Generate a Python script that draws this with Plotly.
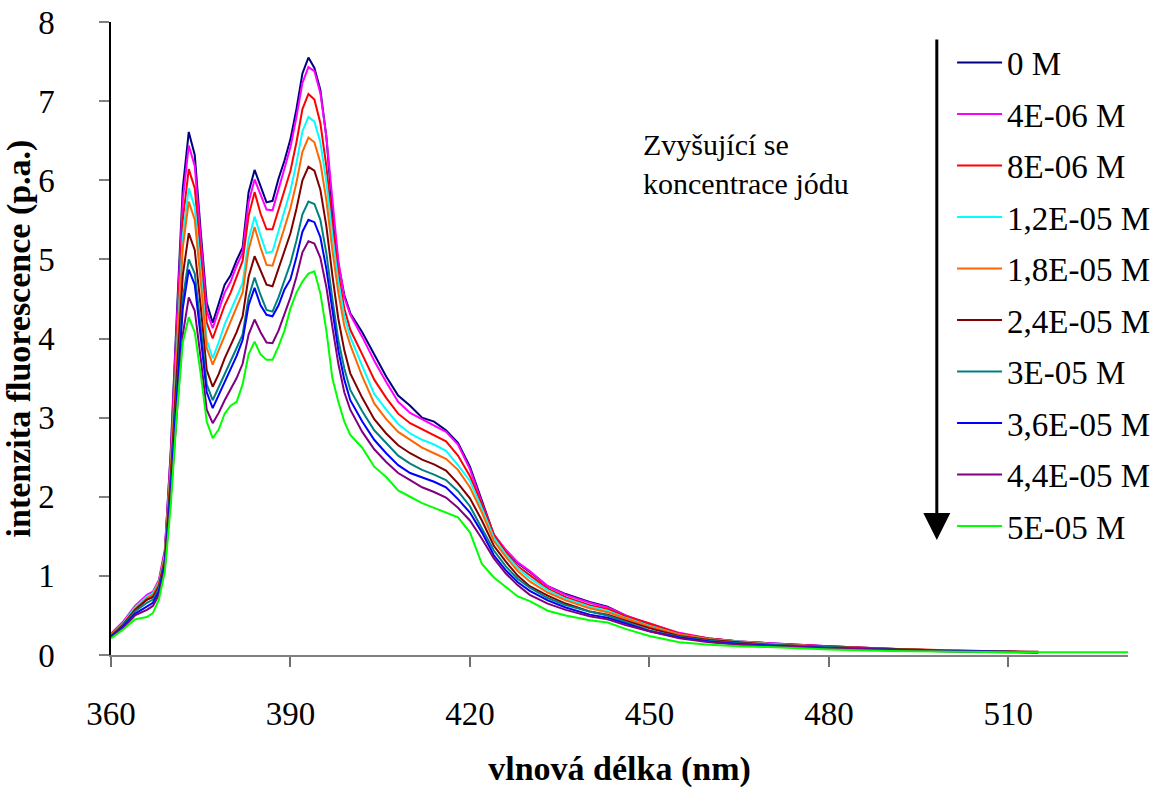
import plotly.graph_objects as go

# Emission wavelengths (nm)
wavelength = [360, 362, 364, 366, 367, 368, 369, 370,
              371, 372, 373, 374, 375, 376, 377, 378, 379, 380, 381, 382, 383, 384, 385,
              386, 387, 388, 389, 390, 391, 392, 393, 394, 395, 396, 397, 398, 399,
              400, 402, 404, 406, 408, 410, 412, 414, 416, 418, 420, 422, 424, 426, 428, 430,
              433, 436, 440, 443, 446, 450,
              455, 460, 465, 470, 480, 490, 500, 510, 515]
wavelength_long = wavelength + [530]

# Fluorescence intensity for each iodide concentration
i_0 = [0.25, 0.40, 0.58, 0.70, 0.74, 0.92, 1.30, 2.60,
       4.30, 5.90, 6.61, 6.32, 5.35, 4.45, 4.20, 4.45, 4.68, 4.80, 4.99, 5.15, 5.85, 6.13, 5.92,
       5.72, 5.74, 6.02, 6.25, 6.52, 6.90, 7.35, 7.55, 7.42, 7.14, 6.55, 5.62, 4.95, 4.55,
       4.32, 4.08, 3.80, 3.52, 3.28, 3.15, 3.00, 2.95, 2.84, 2.68, 2.38, 1.95, 1.52, 1.32, 1.16, 1.05,
       0.87, 0.77, 0.67, 0.61, 0.50, 0.38,
       0.26, 0.21, 0.17, 0.15, 0.11, 0.08, 0.055, 0.04, 0.035]
i_4e6 = [0.27, 0.42, 0.62, 0.76, 0.80, 0.95, 1.33, 2.55,
         4.20, 5.75, 6.44, 6.18, 5.25, 4.35, 4.13, 4.35, 4.58, 4.72, 4.92, 5.08, 5.72, 6.01, 5.82,
         5.63, 5.62, 5.90, 6.15, 6.42, 6.80, 7.23, 7.43, 7.38, 7.10, 6.55, 5.72, 4.98, 4.52,
         4.30, 4.02, 3.72, 3.45, 3.20, 3.06, 2.98, 2.90, 2.82, 2.66, 2.35, 1.92, 1.52, 1.33, 1.17, 1.06,
         0.87, 0.76, 0.66, 0.60, 0.50, 0.40,
         0.28, 0.21, 0.17, 0.15, 0.11, 0.08, 0.055, 0.04, 0.035]
i_8e6 = [0.26, 0.40, 0.60, 0.73, 0.77, 0.92, 1.28, 2.45,
         4.00, 5.50, 6.14, 5.90, 5.05, 4.20, 4.00, 4.20, 4.42, 4.58, 4.78, 4.98, 5.55, 5.85, 5.58,
         5.38, 5.38, 5.62, 5.88, 6.12, 6.48, 6.90, 7.09, 7.02, 6.72, 6.18, 5.45, 4.82, 4.38,
         4.11, 3.80, 3.48, 3.25, 3.05, 2.93, 2.85, 2.78, 2.70, 2.52, 2.26, 1.90, 1.52, 1.30, 1.12, 1.01,
         0.84, 0.73, 0.63, 0.58, 0.49, 0.40,
         0.27, 0.21, 0.17, 0.14, 0.11, 0.08, 0.06, 0.04, 0.035]
i_12e6 = [0.25, 0.40, 0.60, 0.74, 0.78, 0.92, 1.26, 2.40,
          3.85, 5.30, 5.90, 5.66, 4.85, 3.98, 3.75, 3.95, 4.18, 4.35, 4.52, 4.70, 5.25, 5.54, 5.30,
          5.08, 5.10, 5.35, 5.62, 5.87, 6.22, 6.62, 6.80, 6.74, 6.48, 5.98, 5.30, 4.72, 4.28,
          4.02, 3.65, 3.30, 3.10, 2.92, 2.80, 2.72, 2.66, 2.58, 2.40, 2.20, 1.85, 1.48, 1.27, 1.10, 0.97,
          0.82, 0.71, 0.61, 0.56, 0.47, 0.37,
          0.26, 0.20, 0.17, 0.14, 0.10, 0.075, 0.055, 0.04, 0.035]
i_18e6 = [0.26, 0.39, 0.58, 0.72, 0.76, 0.90, 1.24, 2.35,
          3.75, 5.15, 5.73, 5.50, 4.72, 3.88, 3.67, 3.85, 4.05, 4.22, 4.40, 4.58, 5.12, 5.41, 5.15,
          4.93, 4.92, 5.15, 5.40, 5.65, 5.97, 6.36, 6.54, 6.48, 6.22, 5.75, 5.12, 4.58, 4.16,
          3.92, 3.52, 3.18, 2.98, 2.82, 2.72, 2.62, 2.55, 2.48, 2.34, 2.12, 1.80, 1.44, 1.24, 1.06, 0.93,
          0.79, 0.69, 0.59, 0.54, 0.46, 0.36,
          0.26, 0.20, 0.16, 0.14, 0.10, 0.075, 0.055, 0.04, 0.035]
i_24e6 = [0.24, 0.38, 0.57, 0.70, 0.73, 0.87, 1.20, 2.25,
          3.55, 4.80, 5.33, 5.12, 4.40, 3.60, 3.39, 3.55, 3.75, 3.92, 4.08, 4.28, 4.78, 5.04, 4.85,
          4.68, 4.66, 4.88, 5.10, 5.33, 5.64, 6.00, 6.17, 6.12, 5.88, 5.42, 4.80, 4.25, 3.85,
          3.56, 3.25, 2.98, 2.80, 2.65, 2.55, 2.47, 2.41, 2.33, 2.17, 1.98, 1.70, 1.38, 1.18, 1.00, 0.87,
          0.75, 0.65, 0.55, 0.51, 0.44, 0.34,
          0.24, 0.19, 0.16, 0.13, 0.10, 0.075, 0.055, 0.045, 0.04]
i_30e6 = [0.23, 0.37, 0.55, 0.66, 0.70, 0.84, 1.17, 2.15,
          3.35, 4.50, 5.00, 4.82, 4.15, 3.42, 3.22, 3.38, 3.56, 3.72, 3.88, 4.05, 4.52, 4.77, 4.55,
          4.36, 4.34, 4.52, 4.75, 4.95, 5.24, 5.57, 5.73, 5.70, 5.50, 5.08, 4.50, 3.98, 3.62,
          3.35, 3.08, 2.84, 2.68, 2.52, 2.42, 2.34, 2.28, 2.21, 2.07, 1.88, 1.60, 1.32, 1.12, 0.96, 0.85,
          0.72, 0.63, 0.55, 0.50, 0.42, 0.31,
          0.23, 0.18, 0.15, 0.13, 0.10, 0.07, 0.05, 0.04, 0.035]
i_36e6 = [0.23, 0.36, 0.52, 0.61, 0.66, 0.80, 1.15, 2.10,
          3.25, 4.38, 4.87, 4.68, 4.02, 3.32, 3.12, 3.28, 3.45, 3.60, 3.78, 3.98, 4.42, 4.64, 4.42,
          4.30, 4.28, 4.42, 4.62, 4.75, 5.03, 5.35, 5.50, 5.47, 5.28, 4.88, 4.35, 3.85, 3.48,
          3.22, 2.95, 2.72, 2.55, 2.40, 2.30, 2.25, 2.19, 2.12, 1.97, 1.80, 1.55, 1.26, 1.07, 0.92, 0.81,
          0.69, 0.60, 0.51, 0.47, 0.40, 0.30,
          0.22, 0.17, 0.14, 0.12, 0.09, 0.065, 0.05, 0.035, 0.035]
i_44e6 = [0.22, 0.34, 0.50, 0.57, 0.62, 0.76, 1.10, 2.00,
          3.05, 4.05, 4.52, 4.35, 3.75, 3.10, 2.93, 3.06, 3.22, 3.36, 3.50, 3.68, 4.05, 4.24, 4.08,
          3.95, 3.94, 4.10, 4.32, 4.52, 4.78, 5.09, 5.23, 5.20, 5.02, 4.65, 4.15, 3.68, 3.32,
          3.10, 2.82, 2.60, 2.44, 2.30, 2.21, 2.12, 2.06, 1.99, 1.86, 1.70, 1.47, 1.22, 1.03, 0.88, 0.76,
          0.65, 0.57, 0.49, 0.45, 0.38, 0.30,
          0.21, 0.16, 0.13, 0.11, 0.09, 0.065, 0.045, 0.035, 0.035]
i_50e6 = [0.21, 0.32, 0.45, 0.48, 0.53, 0.70, 1.05, 1.90,
          3.05, 3.95, 4.27, 4.08, 3.55, 2.95, 2.74, 2.85, 3.05, 3.15, 3.20, 3.42, 3.80, 3.96, 3.80,
          3.73, 3.73, 3.90, 4.10, 4.38, 4.58, 4.72, 4.82, 4.85, 4.57, 4.10, 3.50, 3.20, 2.95,
          2.78, 2.62, 2.38, 2.25, 2.08, 2.00, 1.92, 1.86, 1.80, 1.74, 1.55, 1.15, 0.98, 0.86, 0.74, 0.68,
          0.56, 0.50, 0.44, 0.41, 0.33, 0.24,
          0.16, 0.13, 0.11, 0.10, 0.07, 0.05, 0.04, 0.035, 0.035, 0.035]

labels = ["0 M", "4E-06 M", "8E-06 M", "1,2E-05 M", "1,8E-05 M",
          "2,4E-05 M", "3E-05 M", "3,6E-05 M", "4,4E-05 M", "5E-05 M"]
series = [i_0, i_4e6, i_8e6, i_12e6, i_18e6, i_24e6, i_30e6, i_36e6, i_44e6, i_50e6]
colors = ["#000080", "#FF00FF", "#FF0000", "#00FFFF", "#FF6600",
          "#800000", "#008080", "#0000FF", "#800080", "#00FF00"]

SERIF = "'Liberation Serif', 'Times New Roman', Times, serif"

fig = go.Figure()
for name, ys, col in zip(labels, series, colors):
    xs = wavelength_long if len(ys) == len(wavelength_long) else wavelength
    fig.add_trace(go.Scatter(
        x=xs, y=ys, mode="lines", name=name, legendgroup=name,
        line=dict(color=col, width=2),
    ))

fig.update_layout(
    width=1157, height=791,
    margin=dict(l=111, r=29, t=22, b=136, autoexpand=False),
    paper_bgcolor="white", plot_bgcolor="white",
    font=dict(family=SERIF, color="black"),
    showlegend=True,
    legend=dict(
        x=0.827, y=0.980, xanchor="left", yanchor="top",
        font=dict(family=SERIF, size=33, color="black"),
        itemwidth=45, tracegroupgap=5.6,
        bgcolor="rgba(0,0,0,0)", borderwidth=0,
    ),
)

fig.update_xaxes(
    range=[360, 530],
    tickvals=[360, 390, 420, 450, 480, 510],
    ticks="outside", ticklen=10, tickwidth=1.5, tickcolor="#707070",
    showline=True, linecolor="#808080", linewidth=2,
    showgrid=False, zeroline=False, automargin=False,
    tickfont=dict(family=SERIF, size=33, color="black"),
    ticklabelstandoff=18,
    title=dict(text="<b>vlnová délka (nm)</b>",
               font=dict(family=SERIF, size=34, color="black"), standoff=26),
)
fig.update_yaxes(
    range=[0, 8], dtick=1,
    ticks="outside", ticklen=10, tickwidth=1.5, tickcolor="#808080",
    showline=True, linecolor="black", linewidth=1.5,
    showgrid=False, zeroline=False, automargin=False,
    tickfont=dict(family=SERIF, size=33, color="black"),
    ticklabelstandoff=38,
    title=dict(text="<b>intenzita fluorescence (p.a.)</b>",
               font=dict(family=SERIF, size=34, color="black"), standoff=0),
)

# Arrow showing the direction of increasing iodide concentration
fig.add_annotation(
    xref="paper", yref="paper", x=0.812, y=0.1817,
    ax=0, ay=-502, axref="pixel", ayref="pixel",
    text="", showarrow=True, arrowhead=2, arrowsize=1.8, arrowwidth=3,
    arrowcolor="black",
)
fig.add_annotation(
    xref="paper", yref="paper", x=0.521, y=0.835,
    xanchor="left", yanchor="top", align="left", showarrow=False,
    text="Zvyšující se<br>koncentrace jódu",
    font=dict(family=SERIF, size=30, color="black"),
)

fig.write_html("out.html")
